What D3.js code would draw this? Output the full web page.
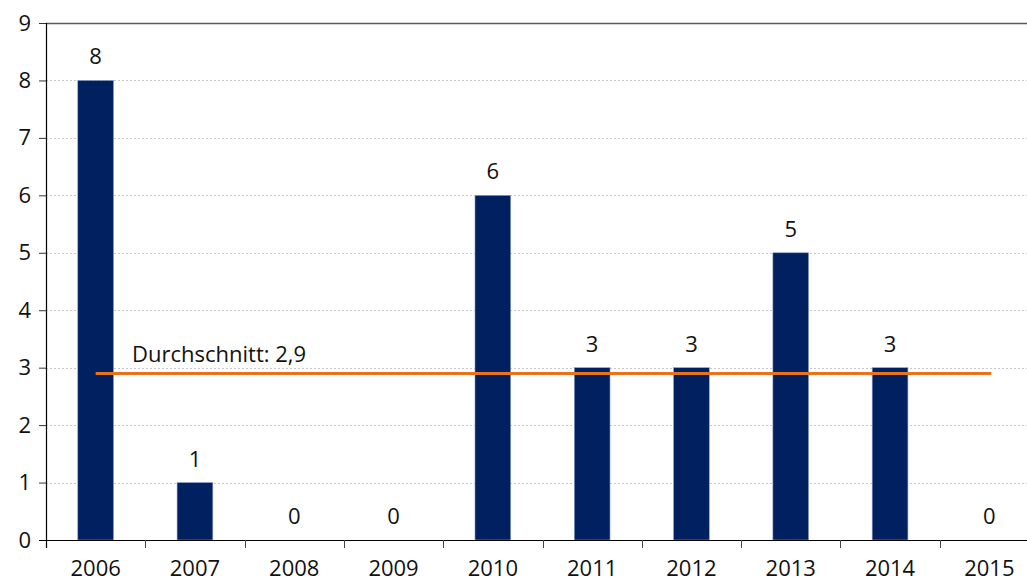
<!DOCTYPE html>
<html>
<head>
<meta charset="utf-8">
<script src="https://cdn.jsdelivr.net/npm/d3@7"></script>
<style>
  html, body { margin: 0; padding: 0; background: #fff; }
  svg { display: block; font-family: "Open Sans", "Noto Sans", sans-serif; }
</style>
</head>
<body>
<svg id="chart" width="1027" height="583"></svg>
<script>
// Yearly counts with the period average
const years = ["2006", "2007", "2008", "2009", "2010", "2011", "2012", "2013", "2014", "2015"];
const counts = [8, 1, 0, 0, 6, 3, 3, 5, 3, 0];
const average = 2.9;
const averageLabel = "Durchschnitt: 2,9";
const yTicks = [0, 1, 2, 3, 4, 5, 6, 7, 8, 9];

const svg = d3.select("#chart");
const plotLeft = 46, plotTop = 23, plotBottom = 540, plotRight = 1039;
const fontSize = 22;

const x = d3.scaleBand().domain(years).range([plotLeft, plotRight]).paddingInner(0.64).paddingOuter(0.32);
const y = d3.scaleLinear().domain([0, 9]).range([plotBottom, plotTop]);

// Gridlines: dotted for inner values, solid at the top
svg.append("g").selectAll("line")
  .data(yTicks.filter(d => d > 0))
  .join("line")
  .attr("x1", plotLeft).attr("x2", 1027)
  .attr("y1", d => Math.round(y(d)) + 0.5).attr("y2", d => Math.round(y(d)) + 0.5)
  .attr("stroke", d => d === 9 ? "#595959" : "#c8c8c8")
  .attr("stroke-width", d => d === 9 ? 1.5 : 1)
  .attr("stroke-dasharray", d => d === 9 ? null : "2,2");

// Bars
svg.append("g").selectAll("rect")
  .data(years.map((yr, i) => ({ yr, v: counts[i] })))
  .join("rect")
  .attr("x", d => x(d.yr))
  .attr("width", x.bandwidth())
  .attr("y", d => y(d.v))
  .attr("height", d => y(0) - y(d.v))
  .attr("fill", "#002060")
  .attr("stroke", "#8fa3cc")
  .attr("stroke-width", 0.6);

// Value labels above bars
svg.append("g").selectAll("text")
  .data(years.map((yr, i) => ({ yr, v: counts[i] })))
  .join("text")
  .attr("x", d => x(d.yr) + x.bandwidth() / 2)
  .attr("y", d => y(d.v) - 16)
  .attr("text-anchor", "middle")
  .attr("font-size", fontSize)
  .attr("fill", "#111")
  .text(d => d.v);

// Average line from first to last category centre
const cx = yr => x(yr) + x.bandwidth() / 2;
svg.append("line")
  .attr("x1", cx(years[0]))
  .attr("x2", cx(years[years.length - 1]) + 2)
  .attr("y1", y(average)).attr("y2", y(average))
  .attr("stroke", "#E8731A")
  .attr("stroke-width", 3);

svg.append("text")
  .attr("x", 132)
  .attr("y", y(average) - 11)
  .attr("font-size", fontSize)
  .attr("fill", "#111")
  .text(averageLabel);

// Y axis
const yAxis = svg.append("g")
  .attr("transform", `translate(${plotLeft},0)`)
  .call(d3.axisLeft(y).tickValues(yTicks).tickSize(7).tickPadding(8).tickFormat(d3.format("d")));
yAxis.select(".domain").remove();
yAxis.selectAll(".tick line").attr("stroke", "#333");
yAxis.selectAll("text").attr("font-size", fontSize).attr("fill", "#111").attr("font-family", "Open Sans, Noto Sans, sans-serif");
svg.append("line")
  .attr("x1", plotLeft + 0.5).attr("x2", plotLeft + 0.5)
  .attr("y1", plotTop).attr("y2", plotBottom + 8)
  .attr("stroke", "#000").attr("stroke-width", 1.2);

// X axis with ticks at band boundaries
svg.append("line")
  .attr("x1", plotLeft - 7).attr("x2", 1027)
  .attr("y1", plotBottom + 0.5).attr("y2", plotBottom + 0.5)
  .attr("stroke", "#000").attr("stroke-width", 1.2);
const step = x.step();
svg.append("g").selectAll("line")
  .data(d3.range(1, years.length))
  .join("line")
  .attr("x1", i => Math.round(plotLeft + i * step) + 0.5)
  .attr("x2", i => Math.round(plotLeft + i * step) + 0.5)
  .attr("y1", plotBottom).attr("y2", plotBottom + 8)
  .attr("stroke", "#444");
svg.append("g").selectAll("text")
  .data(years)
  .join("text")
  .attr("x", d => cx(d))
  .attr("y", 576)
  .attr("text-anchor", "middle")
  .attr("font-size", fontSize)
  .attr("fill", "#111")
  .text(d => d);
</script>
</body>
</html>
